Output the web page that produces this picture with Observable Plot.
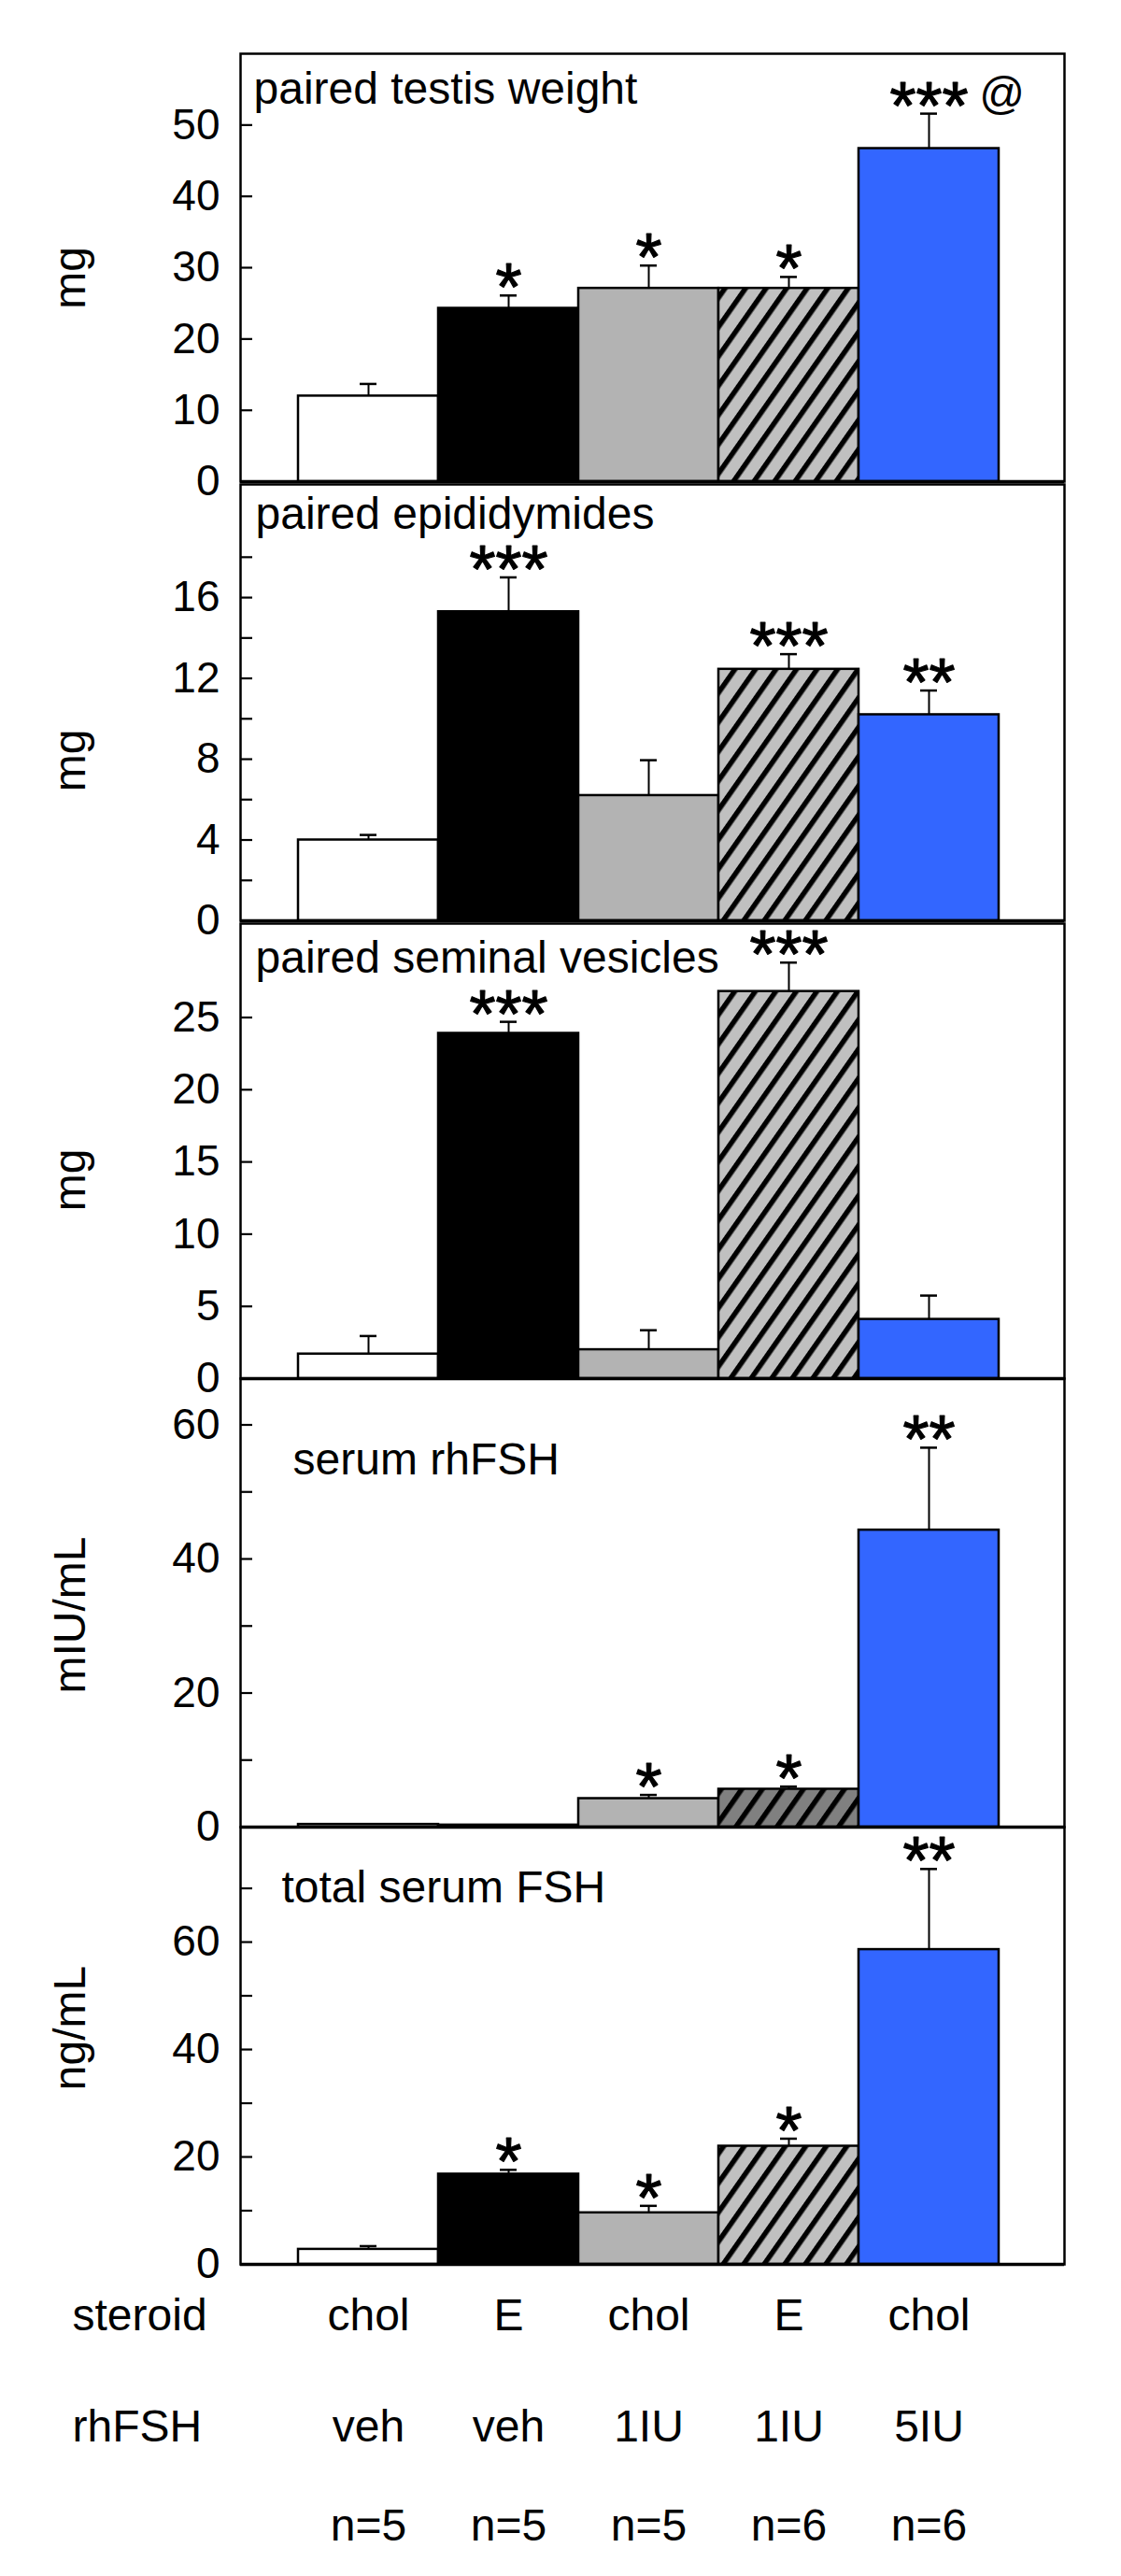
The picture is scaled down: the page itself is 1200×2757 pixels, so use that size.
<!DOCTYPE html>
<html><head><meta charset="utf-8">
<script src="https://cdn.jsdelivr.net/npm/d3@7"></script>
<script src="https://cdn.jsdelivr.net/npm/@observablehq/plot@0.6"></script>
<style>
html,body{margin:0;padding:0;background:white;overflow:hidden;}
#chart svg{display:block;overflow:visible;}
</style></head><body>
<svg width="0" height="0" style="position:absolute">
<defs>
<pattern id="hatch" patternUnits="userSpaceOnUse" width="18" height="18" patternTransform="rotate(35)">
<rect width="18" height="18" fill="#c0c0c0"/><rect width="5.5" height="18" fill="black"/>
</pattern>
<pattern id="hatchDark" patternUnits="userSpaceOnUse" width="18" height="18" patternTransform="rotate(35)">
<rect width="18" height="18" fill="#808080"/><rect width="5.5" height="18" fill="black"/>
</pattern>
</defs></svg>
<div id="chart"></div>
<script>
// ---- data ----
const groups = ["chol/veh", "E/veh", "chol/1IU", "E/1IU", "chol/5IU"];
const steroid = ["chol", "E", "chol", "E", "chol"];
const rhFSH = ["veh", "veh", "1IU", "1IU", "5IU"];
const nLabels = ["n=5", "n=5", "n=5", "n=6", "n=6"];

const testisMean = [12.0, 24.3, 27.1, 27.1, 46.7];
const testisSem  = [1.7, 1.8, 3.2, 1.6, 4.9];
const testisSig  = ["", "*", "*", "*", "***"];
const testisExtra = ["", "", "", "", "@"];

const epidMean = [4.0, 15.3, 6.2, 12.45, 10.2];
const epidSem  = [0.25, 1.7, 1.75, 0.75, 1.2];
const epidSig  = ["", "***", "", "***", "**"];

const svMean = [1.7, 23.9, 2.0, 26.8, 4.1];
const svSem  = [1.25, 0.8, 1.35, 2.0, 1.65];
const svSig  = ["", "***", "", "***", ""];

const rhfshMean = [0.4, 0.3, 4.25, 5.65, 44.3];
const rhfshSem  = [0, 0, 0.55, 0.4, 12.3];
const rhfshSig  = ["", "", "*", "*", "**"];

const totalMean = [2.8, 16.8, 9.6, 22.0, 58.6];
const totalSem  = [0.6, 0.8, 1.3, 1.4, 15.0];
const totalSig  = ["", "*", "*", "*", "**"];

// ---- styles / layout ----
const FONT = "Liberation Sans, Arial, Helvetica, sans-serif";
const fillsA = ["white", "black", "#b3b3b3", "url(#hatch)", "#3366ff"];
const fillsB = ["white", "black", "#b3b3b3", "url(#hatchDark)", "#3366ff"];
const W = 1200, ML = 257, MR = 61, FW = W - ML - MR;

const panels = [
  {title: "paired testis weight", unit: "mg", mean: testisMean, sem: testisSem, sig: testisSig, extra: testisExtra,
   yMax: 60, major: [0,10,20,30,40,50], minor: [], fills: fillsA,
   h: 517, mt: 57, mb: 2, tdx: 14, tdy: 53, udy: 11},
  {title: "paired epididymides", unit: "mg", mean: epidMean, sem: epidSem, sig: epidSig,
   yMax: 21.6, major: [0,4,8,12,16], minor: [2,6,10,14,18], fills: fillsA,
   h: 470, mt: 1, mb: 2, tdx: 16, tdy: 47, udy: 62},
  {title: "paired seminal vesicles", unit: "mg", mean: svMean, sem: svSem, sig: svSig,
   yMax: 31.5, major: [0,5,10,15,20,25], minor: [], fills: fillsA,
   h: 488, mt: 1, mb: 0, tdx: 16, tdy: 52, udy: 31},
  {title: "serum rhFSH", unit: "mIU/mL", mean: rhfshMean, sem: rhfshSem, sig: rhfshSig,
   yMax: 66.9, major: [0,20,40,60], minor: [10,30,50], fills: fillsB,
   h: 480, mt: 0, mb: 0, tdx: 56, tdy: 102, udy: 13},
  {title: "total serum FSH", unit: "ng/mL", mean: totalMean, sem: totalSem, sig: totalSig,
   yMax: 81.4, major: [0,20,40,60], minor: [10,30,50,70], fills: fillsA,
   h: 802, mt: 0, mb: 334, tdx: 44, tdy: 80, udy: -19, bottom: true}
];

const chart = document.getElementById("chart");

for (const p of panels) {
  const rows = groups.map((g, i) => ({
    group: g, mean: p.mean[i], sem: p.sem[i], top: p.mean[i] + p.sem[i],
    sig: p.sig[i], extra: p.extra ? p.extra[i] : "", fill: p.fills[i],
    steroid: steroid[i], rhFSH: rhFSH[i], n: nLabels[i]
  }));
  const withErr = rows.filter(d => d.sem > 0);
  const marks = [
    Plot.barY(rows, {x: "group", y: "mean", fill: "fill", stroke: "black", strokeWidth: 2.5}),
    Plot.ruleX(withErr, {x: "group", y1: "mean", y2: "top", strokeWidth: 2}),
    Plot.tickY(withErr, {x: "group", y: "top", insetLeft: 66, insetRight: 66, strokeWidth: 2.5}),
    Plot.text(rows.filter(d => d.sig), {x: "group", y: "top", text: "sig", fontSize: 72, lineAnchor: "bottom", dy: 16, fill: "black", stroke: "black", strokeWidth: 1.2}),
    Plot.text(rows.filter(d => d.extra), {x: "group", y: "top", text: "extra", fontSize: 48, lineAnchor: "bottom", dx: 78, dy: -6}),
    Plot.ruleY(p.major.filter(v => v > 0).concat(p.minor), {y: d => d, insetRight: FW - 13, strokeWidth: 2.2}),
    Plot.axisY({ticks: p.major, tickSize: 0, tickPadding: 22, fontSize: 46, label: null}),
    Plot.text([p.title], {frameAnchor: "top-left", dx: p.tdx, dy: p.tdy, lineAnchor: "bottom", textAnchor: "start", fontSize: 48}),
    Plot.text([p.unit], {frameAnchor: "left", dx: 90 - ML, dy: p.udy, rotate: -90, lineAnchor: "bottom", textAnchor: "middle", fontSize: 48}),
    Plot.frame({strokeWidth: 2.5}),
    Plot.ruleY([0], {strokeWidth: 3.5})
  ];
  if (p.bottom) {
    marks.push(
      Plot.text(rows, {x: "group", text: "steroid", frameAnchor: "bottom", lineAnchor: "bottom", dy: 70, fontSize: 48}),
      Plot.text(rows, {x: "group", text: "rhFSH", frameAnchor: "bottom", lineAnchor: "bottom", dy: 189, fontSize: 48}),
      Plot.text(rows, {x: "group", text: "n", frameAnchor: "bottom", lineAnchor: "bottom", dy: 295, fontSize: 48}),
      Plot.text(["steroid"], {frameAnchor: "bottom-left", textAnchor: "start", lineAnchor: "bottom", dx: 77 - ML, dy: 70, fontSize: 48}),
      Plot.text(["rhFSH"], {frameAnchor: "bottom-left", textAnchor: "start", lineAnchor: "bottom", dx: 77 - ML, dy: 189, fontSize: 48})
    );
  }
  const svg = Plot.plot({
    width: W, height: p.h,
    marginLeft: ML, marginRight: MR, marginTop: p.mt, marginBottom: p.mb,
    x: {type: "band", domain: groups, range: [317, 1070], padding: 0, axis: null},
    y: {domain: [0, p.yMax], axis: null},
    color: {type: "identity"},
    style: {fontFamily: FONT, fontSize: "46px", color: "black", background: "transparent", overflow: "visible"},
    marks
  });
  chart.appendChild(svg);
}
</script>
</body></html>
